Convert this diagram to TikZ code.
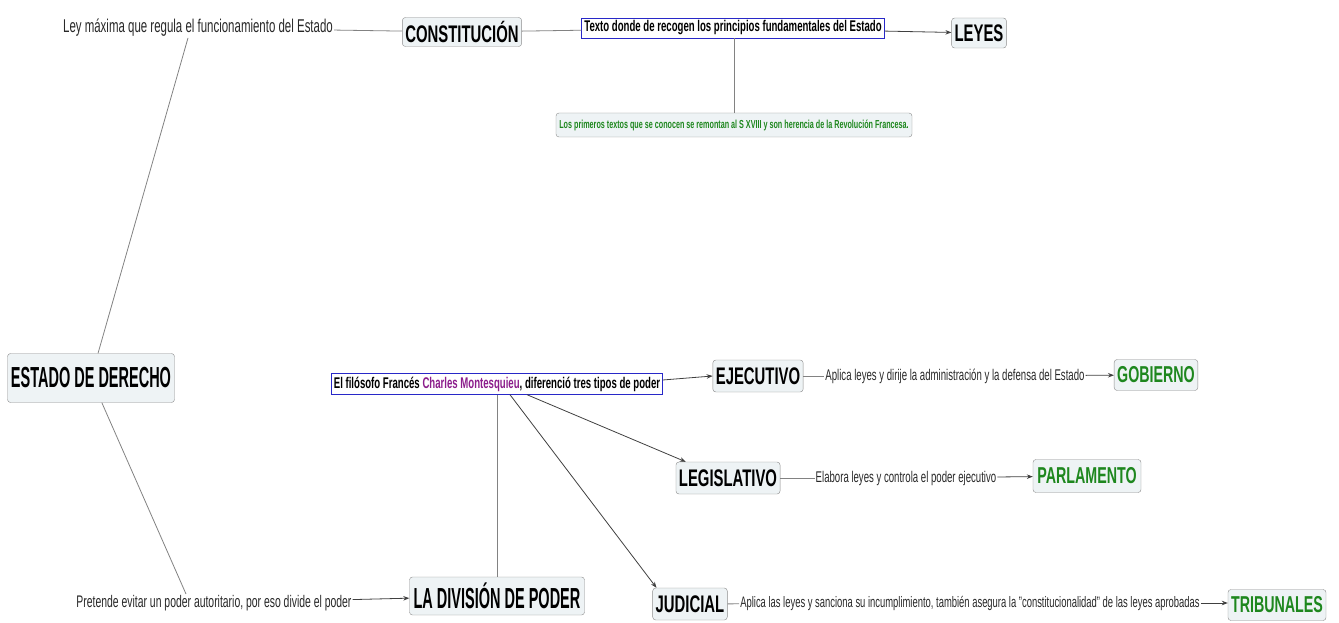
\documentclass[tikz,border=0pt]{standalone}
\usepackage{fontspec}
\setmainfont{Liberation Sans}[FakeStretch=0.62]
\newfontfamily\narrowfam{Liberation Sans}[FakeStretch=0.5]
\usetikzlibrary{arrows.meta}
\definecolor{boxfill}{RGB}{238,243,245}
\definecolor{boxline}{RGB}{140,140,140}
\definecolor{bluebox}{RGB}{40,40,200}
\definecolor{greentxt}{RGB}{30,135,30}
\definecolor{purpletxt}{RGB}{140,30,140}
\definecolor{linec}{RGB}{130,130,130}
\definecolor{txtc}{RGB}{40,40,40}
\tikzset{
  titlebox/.style={draw=boxline, fill=boxfill, rounded corners=3pt, inner sep=3pt, text=black, font=\bfseries\fontsize{24}{26}\selectfont},
  bigtitle/.style={titlebox, font=\narrowfam\bfseries\fontsize{29}{31}\selectfont},
  greentitle/.style={titlebox, text=greentxt, font=\bfseries\fontsize{23}{25}\selectfont},
  bluenote/.style={draw=bluebox, fill=white, inner sep=2pt, text=black, font=\bfseries\fontsize{15.5}{17}\selectfont},
  plainlbl/.style={inner sep=1pt, text=txtc, font=\fontsize{15.5}{17}\selectfont},
  conn/.style={draw=linec, line width=0.8pt},
  arr/.style={conn, draw=black!75, -{Stealth[length=6pt,width=4.5pt]}},
}
\begin{document}
\begin{tikzpicture}[x=1pt,y=-1pt]
\useasboundingbox (0,0) rectangle (1339,623);
% top branch
\node[plainlbl, font=\fontsize{18.5}{20}\selectfont] (ley) at (198,28) {Ley máxima que regula el funcionamiento del Estado};
\node[titlebox, minimum width=113pt, minimum height=29pt] (constit) at (462,32) {CONSTITUCIÓN};
\node[bluenote, minimum width=303pt, minimum height=20pt] (texto) at (733,28) {Texto donde de recogen los principios fundamentales del Estado};
\node[titlebox, minimum width=53pt, minimum height=30pt] (leyes) at (979,33) {LEYES};
\node[titlebox, text=greentxt, font=\bfseries\fontsize{11.6}{13}\selectfont, minimum width=356pt, minimum height=24pt] (primeros) at (734,125) {Los primeros textos que se conocen se remontan al S XVIII y son herencia de la Revolución Francesa.};
% root
\node[bigtitle, minimum width=167pt, minimum height=49pt] (estado) at (91,378) {ESTADO DE DERECHO};
% bottom branch
\node[plainlbl, font=\fontsize{16.8}{18}\selectfont] (pretende) at (214,603) {Pretende evitar un poder autoritario, por eso divide el poder};
\node[bigtitle, minimum width=175pt, minimum height=38pt] (division) at (497,596) {LA DIVISIÓN DE PODER};
\node[bluenote, minimum width=331pt, minimum height=21pt] (montes) at (497,384) {El filósofo Francés \textcolor{purpletxt}{Charles Montesquieu}, diferenció tres tipos de poder};
\node[titlebox, minimum width=88pt, minimum height=32pt] (ejec) at (758,376) {EJECUTIVO};
\node[plainlbl] (aplica1) at (955,376) {Aplica leyes y dirije la administración y la defensa del Estado};
\node[greentitle, minimum width=83pt, minimum height=31pt] (gob) at (1156,375) {GOBIERNO};
\node[titlebox, minimum width=102pt, minimum height=32pt] (legis) at (728,478) {LEGISLATIVO};
\node[plainlbl] (elabora) at (906,478) {Elabora leyes y controla el poder ejecutivo};
\node[greentitle, minimum width=108pt, minimum height=33pt] (parl) at (1087,476) {PARLAMENTO};
\node[titlebox, minimum width=69pt, minimum height=32pt] (judicial) at (690,604) {JUDICIAL};
\node[plainlbl, font=\fontsize{15.2}{17}\selectfont] (aplica2) at (970,603) {Aplica las leyes y sanciona su incumplimiento, también asegura la "constitucionalidad" de las leyes aprobadas};
\node[greentitle, minimum width=98pt, minimum height=31pt] (trib) at (1277,605) {TRIBUNALES};
% connectors
\draw[conn] (ley) -- (constit);
\draw[conn] (constit) -- (texto);
\draw[arr] (texto) -- (leyes);
\draw[conn] (texto.south -| primeros.north) -- (primeros.north);
\draw[conn] (estado) -- ([xshift=-10pt]ley.south);
\draw[conn] (estado) -- ([xshift=-28pt]pretende.north);
\draw[arr] (pretende) -- (division);
\draw[conn] (montes) -- (division);
\draw[arr] ([yshift=4pt]montes.east) -- (ejec.west);
\draw[arr] ([xshift=30pt]montes.south) -- ([xshift=10pt]legis.north west);
\draw[arr] ([xshift=13pt]montes.south) -- ([xshift=4pt]judicial.north west);
\draw[conn] (judicial) -- (aplica2);
\draw[conn] (ejec) -- (aplica1);
\draw[arr] (aplica1) -- (gob);
\draw[conn] (legis) -- (elabora);
\draw[arr] (elabora) -- (parl);
\draw[arr] (aplica2.east) -- (trib.west |- aplica2.east);
\end{tikzpicture}
\end{document}
